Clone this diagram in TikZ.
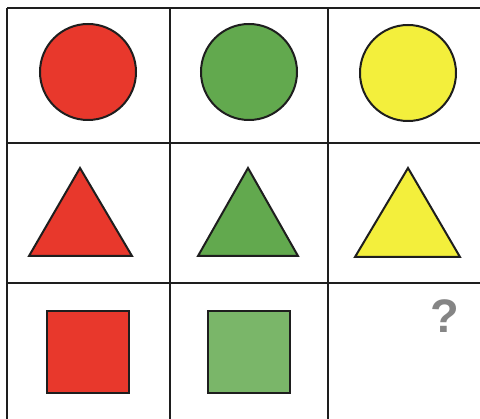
\documentclass[tikz,border=0pt]{standalone}
\usepackage{fontspec}
\setsansfont{Liberation Sans}
\definecolor{cred}{HTML}{E8382C}
\definecolor{cgreen}{HTML}{62A94E}
\definecolor{cyellow}{HTML}{F3EF3C}
\definecolor{cline}{HTML}{1E1E1E}
\definecolor{qgray}{HTML}{858585}
\tikzset{
  gridline/.style={draw=cline, line width=2.2pt},
  shapeline/.style={draw=cline, line width=2pt, line join=miter},
}
\begin{document}
\begin{tikzpicture}[x=1pt,y=-1pt]
\useasboundingbox (0,0) rectangle (480,419);
\fill[white] (0,0) rectangle (480,419);
% grid
\draw[gridline] (7,8) -- (480,8);
\draw[gridline] (7,143) -- (480,143);
\draw[gridline] (7,283) -- (480,283);
\draw[gridline] (7,8) -- (7,419);
\draw[gridline] (170,8) -- (170,419);
\draw[gridline] (328,8) -- (328,419);
% circles
\draw[shapeline, fill=cred] (88,72) circle (48);
\draw[shapeline, fill=cgreen] (249,72) circle (48);
\draw[shapeline, fill=cyellow] (408,73) circle (48);
% triangles
\draw[shapeline, fill=cred] (80,168) -- (132,256) -- (29,256) -- cycle;
\draw[shapeline, fill=cgreen] (248,168) -- (298,256) -- (198,256) -- cycle;
\draw[shapeline, fill=cyellow] (408,168) -- (460,257) -- (355,257) -- cycle;
% squares
\draw[shapeline, fill=cred] (47,311) rectangle (129,393);
\draw[shapeline, fill=cgreen!85!white] (208,311) rectangle (290,393);
% question mark
\node[text=qgray, font=\sffamily\bfseries\fontsize{47}{47}\selectfont, inner sep=0pt] (q) at (445,316) {?};
\end{tikzpicture}
\end{document}
